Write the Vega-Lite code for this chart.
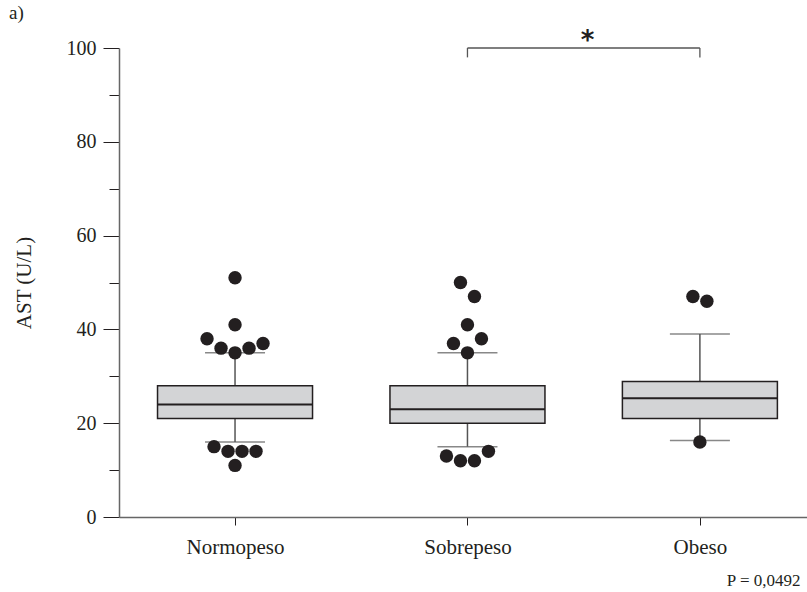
{
  "$schema": "https://vega.github.io/schema/vega-lite/v6.json",
  "autosize": "none",
  "width": 688,
  "height": 469,
  "padding": {"left": 119, "top": 48, "right": 0, "bottom": 75},
  "background": "white",
  "title": {"text": "a)", "anchor": "start", "frame": "group", "dx": -110, "offset": 5, "font": "Liberation Serif", "fontSize": 19, "fontWeight": "normal", "color": "#231f20"},
  "config": {
    "view": {"stroke": null},
    "font": "Liberation Serif"
  },
  "datasets": {
    "boxes": [
      {"grupo": "Normopeso", "lo": 16, "q1": 21, "med": 24, "q3": 28, "hi": 35},
      {"grupo": "Sobrepeso", "lo": 15, "q1": 20, "med": 23, "q3": 28, "hi": 35},
      {"grupo": "Obeso", "lo": 16.3, "q1": 21, "med": 25.3, "q3": 28.9, "hi": 39}
    ],
    "outliers": [
      {"grupo": "Normopeso", "ast": 51, "j": 0},
      {"grupo": "Normopeso", "ast": 41, "j": 0},
      {"grupo": "Normopeso", "ast": 38, "j": -2},
      {"grupo": "Normopeso", "ast": 36, "j": -1},
      {"grupo": "Normopeso", "ast": 35, "j": 0},
      {"grupo": "Normopeso", "ast": 36, "j": 1},
      {"grupo": "Normopeso", "ast": 37, "j": 2},
      {"grupo": "Normopeso", "ast": 15, "j": -1.5},
      {"grupo": "Normopeso", "ast": 14, "j": -0.5},
      {"grupo": "Normopeso", "ast": 14, "j": 0.5},
      {"grupo": "Normopeso", "ast": 14, "j": 1.5},
      {"grupo": "Normopeso", "ast": 11, "j": 0},
      {"grupo": "Sobrepeso", "ast": 50, "j": -0.5},
      {"grupo": "Sobrepeso", "ast": 47, "j": 0.5},
      {"grupo": "Sobrepeso", "ast": 41, "j": 0},
      {"grupo": "Sobrepeso", "ast": 37, "j": -1},
      {"grupo": "Sobrepeso", "ast": 38, "j": 1},
      {"grupo": "Sobrepeso", "ast": 35, "j": 0},
      {"grupo": "Sobrepeso", "ast": 13, "j": -1.5},
      {"grupo": "Sobrepeso", "ast": 12, "j": -0.5},
      {"grupo": "Sobrepeso", "ast": 12, "j": 0.5},
      {"grupo": "Sobrepeso", "ast": 14, "j": 1.5},
      {"grupo": "Obeso", "ast": 47, "j": -0.5},
      {"grupo": "Obeso", "ast": 46, "j": 0.5},
      {"grupo": "Obeso", "ast": 16, "j": 0}
    ],
    "bracket": [{"a": "Sobrepeso", "b": "Obeso", "sig": "*"}],
    "bracketEnds": [{"g": "Sobrepeso"}, {"g": "Obeso"}]
  },
  "encoding": {
    "x": {
      "field": "grupo",
      "type": "nominal",
      "scale": {"type": "point", "domain": ["Normopeso", "Sobrepeso", "Obeso"], "padding": 0.48, "align": 0.52},
      "axis": {
        "title": "P = 0,0492",
        "titleFont": "Liberation Serif",
        "titleFontSize": 17,
        "titleFontWeight": "normal",
        "titleColor": "#231f20",
        "titleAlign": "right",
        "titleBaseline": "alphabetic",
        "titleX": 681,
        "titleY": 68,
        "labelAngle": 0,
        "labelFont": "Liberation Serif",
        "labelFontSize": 21,
        "labelColor": "#231f20",
        "labelPadding": 11,
        "tickSize": 8,
        "tickColor": "#231f20",
        "domainColor": "#666666",
        "domainWidth": 1.5,
        "grid": false
      }
    }
  },
  "layer": [
    {
      "data": {"name": "boxes"},
      "mark": {"type": "rule", "color": "#555555", "strokeWidth": 1.5},
      "encoding": {
        "y": {
          "field": "lo",
          "type": "quantitative",
          "scale": {"domain": [0, 100], "nice": false, "zero": true},
          "axis": {
            "title": "AST (U/L)",
            "titleFont": "Liberation Serif",
            "titleFontSize": 21,
            "titleFontWeight": "normal",
            "titleColor": "#231f20",
            "titlePadding": 32,
            "values": [0, 10, 20, 30, 40, 50, 60, 70, 80, 90, 100],
            "labelExpr": "datum.value % 20 === 0 ? datum.label : ''",
            "labelFont": "Liberation Serif",
            "labelFontSize": 20,
            "labelColor": "#231f20",
            "labelPadding": 7,
            "tickSize": {"condition": {"test": "datum.value % 20 === 0", "value": 16}, "value": 10},
            "tickColor": "#231f20",
            "domainColor": "#666666",
            "domainWidth": 1.5,
            "grid": false
          }
        },
        "y2": {"field": "hi"}
      }
    },
    {
      "data": {"name": "boxes"},
      "mark": {"type": "tick", "orient": "horizontal", "size": 60, "thickness": 1.5, "color": "#555555"},
      "encoding": {"y": {"field": "lo", "type": "quantitative"}}
    },
    {
      "data": {"name": "boxes"},
      "mark": {"type": "tick", "orient": "horizontal", "size": 60, "thickness": 1.5, "color": "#555555"},
      "encoding": {"y": {"field": "hi", "type": "quantitative"}}
    },
    {
      "data": {"name": "boxes"},
      "mark": {"type": "bar", "size": 155, "fill": "#d3d4d6", "stroke": "#231f20", "strokeWidth": 1.5},
      "encoding": {"y": {"field": "q1", "type": "quantitative"}, "y2": {"field": "q3"}}
    },
    {
      "data": {"name": "boxes"},
      "mark": {"type": "tick", "orient": "horizontal", "size": 155, "thickness": 2, "color": "#231f20", "opacity": 1},
      "encoding": {"y": {"field": "med", "type": "quantitative"}}
    },
    {
      "data": {"name": "outliers"},
      "mark": {"type": "circle", "size": 180, "color": "#231f20", "opacity": 1},
      "encoding": {
        "y": {"field": "ast", "type": "quantitative"},
        "xOffset": {"field": "j", "type": "quantitative", "scale": {"domain": [-2, 2], "range": [-28, 28]}}
      }
    },
    {
      "data": {"name": "bracket"},
      "mark": {"type": "rule", "color": "#555555", "strokeWidth": 1.3},
      "encoding": {
        "x": {"field": "a", "type": "nominal"},
        "x2": {"field": "b"},
        "y": {"datum": 100, "type": "quantitative"}
      }
    },
    {
      "data": {"name": "bracketEnds"},
      "mark": {"type": "rule", "color": "#555555", "strokeWidth": 1.3},
      "encoding": {
        "x": {"field": "g", "type": "nominal"},
        "y": {"datum": 100, "type": "quantitative"},
        "y2": {"datum": 98}
      }
    },
    {
      "data": {"name": "bracket"},
      "mark": {"type": "text", "font": "DejaVu Sans", "fontSize": 26, "fontWeight": "bold", "color": "#231f20", "dx": 120, "dy": 1, "baseline": "alphabetic", "align": "center"},
      "encoding": {
        "x": {"field": "a", "type": "nominal"},
        "y": {"datum": 100, "type": "quantitative"},
        "text": {"field": "sig"}
      }
    }
  ]
}
